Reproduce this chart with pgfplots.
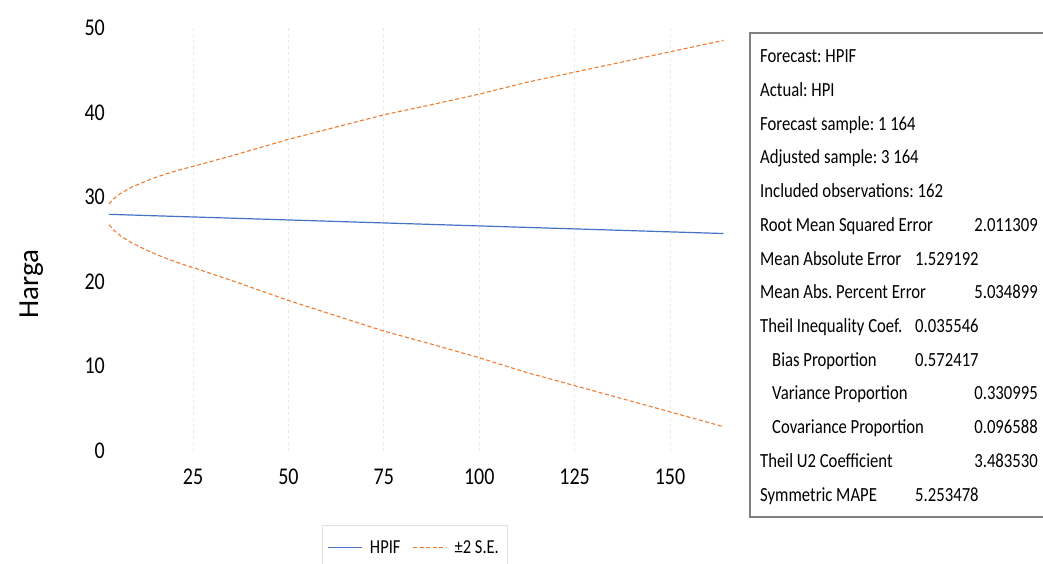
\documentclass[border=0pt]{standalone}
\usepackage{fontspec}
\setmainfont{Carlito}
\usepackage{graphicx}
\usepackage{pgfplots}
\usepackage{pgfplotstable}
\pgfplotsset{compat=1.18}
\definecolor{xblue}{HTML}{4472C4}
\definecolor{xorange}{HTML}{ED7D31}
\definecolor{boxgray}{HTML}{808080}
\newcommand\bx[1]{\scalebox{1}[1.2]{#1}}
\frenchspacing

\pgfplotstableread{
x y
3 27.94
83 26.81
164 25.67
}\forecastT

\pgfplotstableread{
x y
3 29.16
4 29.70
6 30.40
9 31.17
14 32.11
18 32.73
22 33.26
27 33.85
35 34.84
50 36.80
62 38.20
75 39.70
88 40.95
100 42.15
112 43.50
125 44.75
138 46.00
150 47.15
164 48.50
}\upperT

\pgfplotstableread{
x y
3 26.72
4 26.16
6 25.40
9 24.55
14 23.45
18 22.73
22 22.08
27 21.35
35 20.14
50 17.76
62 16.02
75 14.14
88 12.53
100 10.99
112 9.30
125 7.69
138 6.08
150 4.59
164 2.84
}\lowerT

\begin{document}
\begin{tikzpicture}[x=1pt,y=1pt]
\clip (0,0) rectangle (1043,563);
\fill[white] (0,0) rectangle (1043,563);
\begin{axis}[
  at={(101.4pt,112.3pt)}, anchor=south west,
  scale only axis, width=625.9pt, height=423pt,
  xmin=1, xmax=165, ymin=0, ymax=50,
  axis line style={draw=none},
  tick style={draw=none},
  xtick={25,50,...,150}, ytick={0,10,...,50},
  xmajorgrids, major x grid style={dashed, gray!18, line width=0.8pt},
  /pgf/number format/assume math mode=true,
  ticklabel style={font=\fontsize{20}{24}\selectfont, text=black},
  xticklabel={\bx{\pgfmathprintnumber{\tick}}},
  yticklabel={\bx{\pgfmathprintnumber{\tick}}},
  yticklabel style={xshift=7pt},
  xticklabel style={yshift=-15pt},
  ylabel={Harga},
  ylabel style={font=\fontsize{29}{34}\selectfont, at={(axis description cs:-0.112,0.394)}, anchor=center},
  legend style={at={(axis description cs:0.5,-0.176)}, anchor=north, legend columns=2,
    draw=gray!25, font=\fontsize{16.5}{20}\selectfont, inner xsep=6pt, inner ysep=13pt,
    /tikz/every odd column/.append style={column sep=5pt},
    /tikz/every even column/.append style={column sep=10pt}},
  legend image code/.code={\draw[#1] (0pt,0pt) -- (34pt,0pt);},
]
\addplot[xblue, line width=1.2pt] table[x=x,y=y] {\forecastT};
\addlegendentry{\bx{HPIF}}
\addplot[xorange, line width=1.1pt, dash pattern=on 4pt off 2.5pt] table[x=x,y=y] {\upperT};
\addlegendentry{\bx{±2 S.E.}}
\addplot[xorange, line width=1.1pt, dash pattern=on 4pt off 2.5pt, forget plot] table[x=x,y=y] {\lowerT};
\end{axis}
\draw[boxgray, line width=1.2pt] (1080,530) -- (750,530) -- (750,46) -- (1080,46);
\begin{scope}[every node/.style={font=\fontsize{16.7}{20}\selectfont, inner sep=0pt}]
\node[anchor=base west] at (760,{563-(56.5+33.7*0)-6.4}) {\bx{Forecast: HPIF}};
\node[anchor=base west] at (760,{563-(56.5+33.7*1)-6.4}) {\bx{Actual: HPI}};
\node[anchor=base west] at (760,{563-(56.5+33.7*2)-6.4}) {\bx{Forecast sample: 1 164}};
\node[anchor=base west] at (760,{563-(56.5+33.7*3)-6.4}) {\bx{Adjusted sample: 3 164}};
\node[anchor=base west] at (760,{563-(56.5+33.7*4)-6.4}) {\bx{Included observations: 162}};
\node[anchor=base west] at (760,{563-(56.5+33.7*5)-6.4}) {\bx{Root Mean Squared Error}};
\node[anchor=base east] at (1038,{563-(56.5+33.7*5)-6.4}) {\bx{2.011309}};
\node[anchor=base west] at (760,{563-(56.5+33.7*6)-6.4}) {\bx{Mean Absolute Error}};
\node[anchor=base west] at (915,{563-(56.5+33.7*6)-6.4}) {\bx{1.529192}};
\node[anchor=base west] at (760,{563-(56.5+33.7*7)-6.4}) {\bx{Mean Abs. Percent Error}};
\node[anchor=base east] at (1038,{563-(56.5+33.7*7)-6.4}) {\bx{5.034899}};
\node[anchor=base west] at (760,{563-(56.5+33.7*8)-6.4}) {\bx{Theil Inequality Coef.}};
\node[anchor=base west] at (915,{563-(56.5+33.7*8)-6.4}) {\bx{0.035546}};
\node[anchor=base west] at (772,{563-(56.5+33.7*9)-6.4}) {\bx{Bias Proportion}};
\node[anchor=base west] at (915,{563-(56.5+33.7*9)-6.4}) {\bx{0.572417}};
\node[anchor=base west] at (772,{563-(56.5+33.7*10)-6.4}) {\bx{Variance Proportion}};
\node[anchor=base east] at (1038,{563-(56.5+33.7*10)-6.4}) {\bx{0.330995}};
\node[anchor=base west] at (772,{563-(56.5+33.7*11)-6.4}) {\bx{Covariance Proportion}};
\node[anchor=base east] at (1038,{563-(56.5+33.7*11)-6.4}) {\bx{0.096588}};
\node[anchor=base west] at (760,{563-(56.5+33.7*12)-6.4}) {\bx{Theil U2 Coefficient}};
\node[anchor=base east] at (1038,{563-(56.5+33.7*12)-6.4}) {\bx{3.483530}};
\node[anchor=base west] at (760,{563-(56.5+33.7*13)-6.4}) {\bx{Symmetric MAPE}};
\node[anchor=base west] at (915,{563-(56.5+33.7*13)-6.4}) {\bx{5.253478}};
\end{scope}
\end{tikzpicture}
\end{document}
